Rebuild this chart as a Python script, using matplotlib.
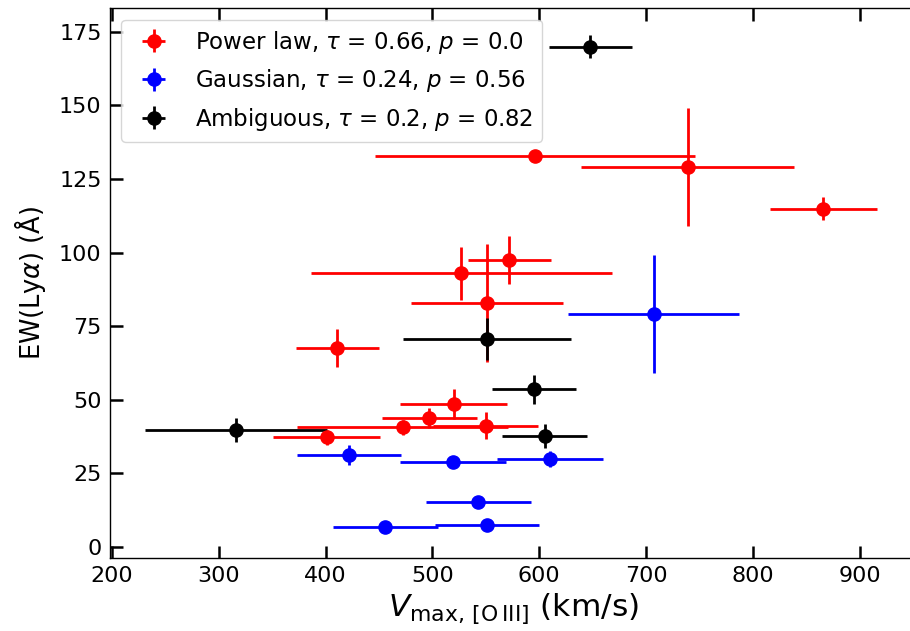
import matplotlib
matplotlib.use("Agg")
import matplotlib.pyplot as plt

# Power law (red)
pl_x = [596, 739, 866, 527, 572, 551, 411, 520, 497, 472, 550, 401]
pl_y = [133, 129, 115, 93, 97.5, 83, 67.7, 48.6, 43.9, 40.7, 41.3, 37.3]
pl_xerr = [150, 100, 50, 141, 39, 71, 39, 50, 44.5, 99, 49, 50]
pl_yerr = [1, 20, 4, 9, 8, 20, 6.5, 5, 3.5, 2.5, 4.5, 2.5]

# Gaussian (blue)
ga_x = [707, 422, 519, 610, 543, 456, 551]
ga_y = [79.3, 31.3, 28.8, 29.8, 15.3, 6.9, 7.6]
ga_xerr = [80, 49, 49.5, 50, 49, 49, 49]
ga_yerr = [20, 3.5, 2, 2.7, 1, 1, 1]

# Ambiguous (black)
am_x = [648, 551, 595, 316, 605]
am_y = [170, 70.7, 53.6, 39.8, 37.7]
am_xerr = [39, 79, 39.5, 85, 39.5]
am_yerr = [4, 7, 5, 4, 4]

labels = [r"Power law, $\tau$ = 0.66, $p$ = 0.0",
          r"Gaussian, $\tau$ = 0.24, $p$ = 0.56",
          r"Ambiguous, $\tau$ = 0.2, $p$ = 0.82"]

fig = plt.figure(figsize=(9.1, 6.31), dpi=100)
ax = fig.add_axes([110/910, 1-558/631, 806/910, (558-8.3)/631])

kw = dict(fmt='o', markersize=9.5, elinewidth=2.0, capsize=0, linestyle='none')
ax.errorbar(pl_x, pl_y, xerr=pl_xerr, yerr=pl_yerr, color='red', label=labels[0], **kw)
ax.errorbar(ga_x, ga_y, xerr=ga_xerr, yerr=ga_yerr, color='blue', label=labels[1], **kw)
ax.errorbar(am_x, am_y, xerr=am_xerr, yerr=am_yerr, color='black', label=labels[2], **kw)

ax.set_xlim(198.1, 198.1 + 806/1.068)
ax.set_ylim(-3.7, 183.0)
ax.set_xticks([200, 300, 400, 500, 600, 700, 800, 900])
ax.set_yticks([0, 25, 50, 75, 100, 125, 150, 175])
ax.tick_params(direction='in', length=9, width=1.8, labelsize=16,
               top=True, right=False, pad=6)
for s in ax.spines.values():
    s.set_linewidth(1.0)

ax.set_xlabel(r"$V_{\rm max,\,[O\,III]}$ (km/s)", fontsize=22.5, labelpad=4)
ax.set_ylabel(r"EW(Ly$\alpha$) ($\rm\AA$)", fontsize=18.5, labelpad=8)

ax.legend(loc='upper left', fontsize=16.5)

fig.savefig("out.png", dpi=100)
